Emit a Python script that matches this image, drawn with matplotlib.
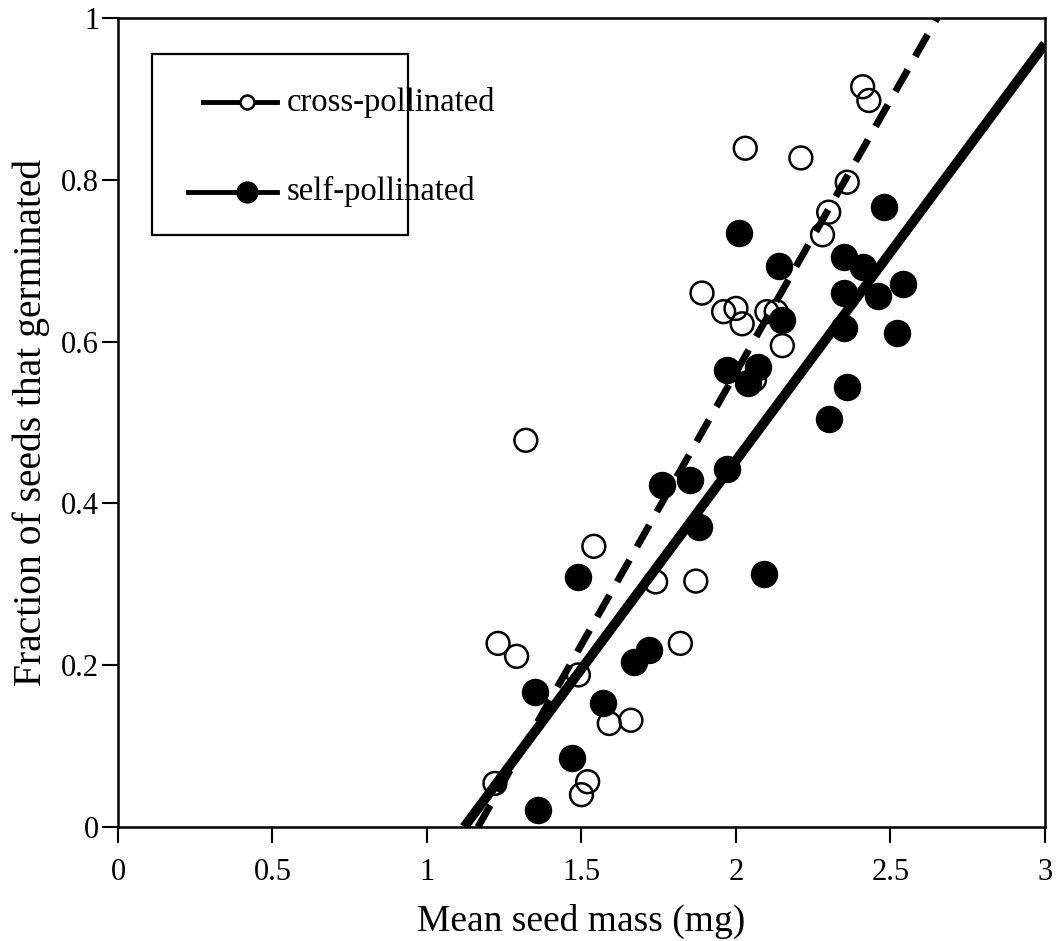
import numpy as np
import matplotlib
matplotlib.use("Agg")
import matplotlib.pyplot as plt
from matplotlib.patches import Rectangle
from matplotlib.lines import Line2D

plt.rcParams["font.family"] = ["Liberation Serif", "DejaVu Serif"]

# cross-pollinated seeds (open circles)
cross_mass = [2.41, 2.43, 2.03, 2.21, 2.36, 2.30, 2.28, 1.89, 1.96, 2.00,
              2.02, 2.10, 2.13, 2.15, 2.06, 1.32, 1.54, 1.74, 1.87, 1.23,
              1.29, 1.49, 1.82, 1.59, 1.66, 1.22, 1.52, 1.50]
cross_frac = [0.915, 0.898, 0.839, 0.827, 0.797, 0.760, 0.732, 0.660, 0.637, 0.641,
              0.622, 0.637, 0.637, 0.595, 0.553, 0.478, 0.347, 0.303, 0.304, 0.227,
              0.211, 0.188, 0.227, 0.128, 0.132, 0.054, 0.056, 0.040]

# self-pollinated seeds (filled circles)
self_mass = [2.48, 2.01, 2.14, 2.35, 2.41, 2.35, 2.46, 2.54, 2.15, 2.35,
             2.52, 1.97, 2.07, 2.04, 2.36, 2.30, 1.76, 1.85, 1.97, 1.88,
             1.49, 2.09, 1.35, 1.57, 1.67, 1.72, 1.47, 1.36]
self_frac = [0.766, 0.734, 0.693, 0.705, 0.692, 0.660, 0.656, 0.671, 0.627, 0.617,
             0.611, 0.565, 0.569, 0.549, 0.544, 0.504, 0.423, 0.429, 0.443, 0.371,
             0.309, 0.313, 0.167, 0.153, 0.204, 0.219, 0.085, 0.021]

# regression lines: (slope, intercept)
cross_fit = (0.673, -0.784)
self_fit = (0.515, -0.577)

x_ticks = [0, 0.5, 1, 1.5, 2, 2.5, 3]
x_labels = ["0", "0.5", "1", "1.5", "2", "2.5", "3"]
y_ticks = [0, 0.2, 0.4, 0.6, 0.8, 1]
y_labels = ["0", "0.2", "0.4", "0.6", "0.8", "1"]


def fit_line(fit, xmax=3.0, ymax=1.0):
    slope, icpt = fit
    x0 = -icpt / slope
    x1 = min(xmax, (ymax - icpt) / slope)
    xs = np.array([x0, x1])
    return xs, slope * xs + icpt


fig = plt.figure(figsize=(10.58, 9.41), dpi=100)
ax = fig.add_axes([0.1115, 0.1211, 0.8762, 0.8598])

xs, ys = fit_line(cross_fit)
ax.plot(xs, ys, color="black", lw=5, ls=(0, (3.6, 2.2)), solid_capstyle="butt",
        dash_capstyle="butt", zorder=2)
xs, ys = fit_line(self_fit)
ax.plot(xs, ys, color="black", lw=7, solid_capstyle="butt", zorder=2)

ax.scatter(cross_mass, cross_frac, s=270, facecolors="none", edgecolors="black",
           linewidths=1.8, zorder=3)
ax.scatter(self_mass, self_frac, s=390, color="black", linewidths=0, zorder=4)

ax.set_xlim(0, 3)
ax.set_ylim(0, 1)
ax.set_xticks(x_ticks)
ax.set_xticklabels(x_labels)
ax.set_yticks(y_ticks)
ax.set_yticklabels(y_labels)
ax.tick_params(axis="both", direction="out", length=11.5, width=1.5,
               labelsize=22, colors="black")
ax.tick_params(axis="x", pad=11)
ax.tick_params(axis="y", pad=2)
for sp in ax.spines.values():
    sp.set_linewidth(1.8)

ax.set_xlabel("Mean seed mass (mg)", fontsize=27, labelpad=12)
ax.set_ylabel("Fraction of seeds that germinated", fontsize=28.5, labelpad=8)

# legend box, drawn by hand in axes coordinates
ax.add_patch(Rectangle((0.0367, 0.7318), 0.2763, 0.2237, transform=ax.transAxes,
                       fill=False, lw=1.6, ec="black", zorder=5))
ax.add_line(Line2D([0.0917, 0.1715], [0.896, 0.896], transform=ax.transAxes,
                   color="black", lw=3.5, zorder=6))
ax.plot([0.139], [0.896], transform=ax.transAxes, marker="o", ms=10,
        mfc="white", mec="black", mew=1.8, zorder=7)
ax.add_line(Line2D([0.0755, 0.1715], [0.785, 0.785], transform=ax.transAxes,
                   color="black", lw=3.5, zorder=6))
ax.plot([0.139], [0.785], transform=ax.transAxes, marker="o", ms=15,
        color="black", zorder=7)
ax.text(0.182, 0.896, "cross-pollinated", transform=ax.transAxes, fontsize=23.5,
        va="center", ha="left", zorder=7)
ax.text(0.182, 0.785, "self-pollinated", transform=ax.transAxes, fontsize=23.5,
        va="center", ha="left", zorder=7)

fig.savefig("out.png", dpi=100)
